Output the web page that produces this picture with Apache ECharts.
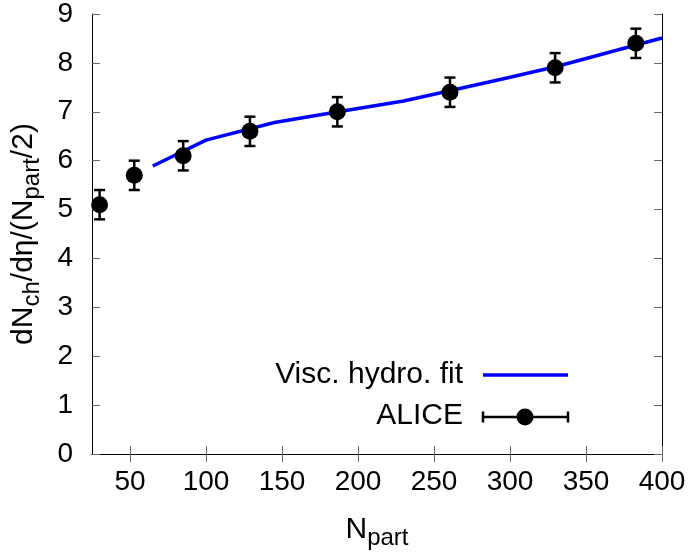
<!DOCTYPE html>
<html>
<head>
<meta charset="utf-8">
<script src="https://cdn.jsdelivr.net/npm/echarts@6/dist/echarts.min.js"></script>
<style>
html,body{margin:0;padding:0;background:#fff;}
#chart{width:694px;height:560px;}
</style>
</head>
<body>
<div id="chart"></div>
<script>
// ALICE data: Npart, dNch/deta/(Npart/2), error
const aliceNpart = [30.0, 52.8, 85.0, 128.9, 186.4, 260.5, 329.7, 382.8];
const aliceValue = [5.1, 5.7, 6.1, 6.6, 7.0, 7.4, 7.9, 8.4];
const aliceError = [0.3, 0.3, 0.3, 0.3, 0.3, 0.3, 0.3, 0.3];
// Viscous hydro fit curve
const fitNpart = [65, 100, 145, 185, 230, 250, 295, 330, 400];
const fitValue = [5.89, 6.42, 6.78, 6.99, 7.22, 7.36, 7.67, 7.92, 8.51];
// Axis ticks
const xTicks = [50, 100, 150, 200, 250, 300, 350, 400];
const yTicks = [0, 1, 2, 3, 4, 5, 6, 7, 8, 9];
// Legend entries
const legendNames = ['Visc. hydro. fit', 'ALICE'];

const FONT = '"Liberation Sans", Arial, Helvetica, sans-serif';
const chart = echarts.init(document.getElementById('chart'), null, {renderer: 'canvas'});

const alicePts = aliceNpart.map((x, i) => [x, aliceValue[i], aliceError[i]]);
const fitPts = fitNpart.map((x, i) => [x, fitValue[i]]);

const tickStyle = {show: true, inside: true, length: 8, lineStyle: {color: '#666', width: 1}};
const subRich = {sub: {fontFamily: FONT, fontSize: 24, color: '#000', verticalAlign: 'bottom', padding: [16, 0, 0, 0]}};

const option = {
  backgroundColor: '#fff',
  animation: false,
  grid: {left: 92, right: 32, top: 10, bottom: 106, containLabel: false},
  xAxis: [{
    type: 'value', min: 25, max: 400,
    name: 'N{sub|part}', nameLocation: 'middle', nameGap: 56,
    nameTextStyle: {fontFamily: FONT, fontSize: 30, color: '#000', rich: subRich},
    axisLine: {show: true, lineStyle: {color: '#000', width: 1}},
    axisTick: Object.assign({customValues: xTicks}, tickStyle),
    axisLabel: {customValues: xTicks, margin: 14, fontFamily: FONT, fontSize: 28, color: '#000'},
    splitLine: {show: false}
  }, {
    type: 'value', min: 25, max: 400, position: 'top',
    axisLine: {show: true, lineStyle: {color: '#000', width: 1}},
    axisTick: Object.assign({customValues: xTicks}, tickStyle),
    axisLabel: {show: false},
    splitLine: {show: false}
  }],
  yAxis: [{
    type: 'value', min: 0, max: 9, interval: 1,
    name: 'dN{sub|ch}/dη/(N{sub|part}/2)', nameLocation: 'middle', nameGap: 48,
    nameTextStyle: {fontFamily: FONT, fontSize: 30, color: '#000', rich: subRich},
    axisLine: {show: true, lineStyle: {color: '#000', width: 1}},
    axisTick: tickStyle,
    axisLabel: {margin: 19, fontFamily: FONT, fontSize: 28, color: '#000',
      formatter: v => yTicks.indexOf(v) >= 0 ? String(v) : ''},
    splitLine: {show: false}
  }, {
    type: 'value', min: 0, max: 9, interval: 1, position: 'right',
    axisLine: {show: true, lineStyle: {color: '#000', width: 1}},
    axisTick: tickStyle,
    axisLabel: {show: false},
    splitLine: {show: false}
  }],
  series: [{
    name: legendNames[0],
    type: 'line',
    data: fitPts,
    showSymbol: false,
    lineStyle: {color: '#0000ff', width: 3.5},
    z: 3
  }, {
    name: 'ALICE errors',
    type: 'custom',
    data: alicePts,
    renderItem: function (params, api) {
      const x = api.value(0), y = api.value(1), e = api.value(2);
      const lo = api.coord([x, y - e]);
      const hi = api.coord([x, y + e]);
      const cw = 5.5;
      const st = {stroke: '#000', lineWidth: 2.5};
      return {type: 'group', children: [
        {type: 'line', shape: {x1: lo[0], y1: lo[1], x2: hi[0], y2: hi[1]}, style: st},
        {type: 'line', shape: {x1: lo[0] - cw, y1: lo[1], x2: lo[0] + cw, y2: lo[1]}, style: st},
        {type: 'line', shape: {x1: hi[0] - cw, y1: hi[1], x2: hi[0] + cw, y2: hi[1]}, style: st}
      ]};
    },
    z: 4
  }, {
    name: legendNames[1],
    type: 'scatter',
    data: alicePts.map(p => [p[0], p[1]]),
    symbol: 'circle',
    symbolSize: 17,
    itemStyle: {color: '#000', opacity: 1},
    z: 5
  }],
  graphic: [
    {type: 'text', x: 463, y: 375, style: {text: legendNames[0], font: '30px ' + FONT, fill: '#000', align: 'right', verticalAlign: 'middle'}},
    {type: 'line', shape: {x1: 483, y1: 375, x2: 568, y2: 375}, style: {stroke: '#0000ff', lineWidth: 3.5}},
    {type: 'text', x: 463, y: 416, style: {text: legendNames[1], font: '30px ' + FONT, fill: '#000', align: 'right', verticalAlign: 'middle'}},
    {type: 'line', shape: {x1: 483, y1: 417, x2: 568, y2: 417}, style: {stroke: '#000', lineWidth: 2.5}},
    {type: 'line', shape: {x1: 483, y1: 411.5, x2: 483, y2: 422.5}, style: {stroke: '#000', lineWidth: 2.5}},
    {type: 'line', shape: {x1: 568, y1: 411.5, x2: 568, y2: 422.5}, style: {stroke: '#000', lineWidth: 2.5}},
    {type: 'circle', shape: {cx: 525, cy: 417, r: 8.5}, style: {fill: '#000'}}
  ]
};
chart.setOption(option);
</script>
</body>
</html>
